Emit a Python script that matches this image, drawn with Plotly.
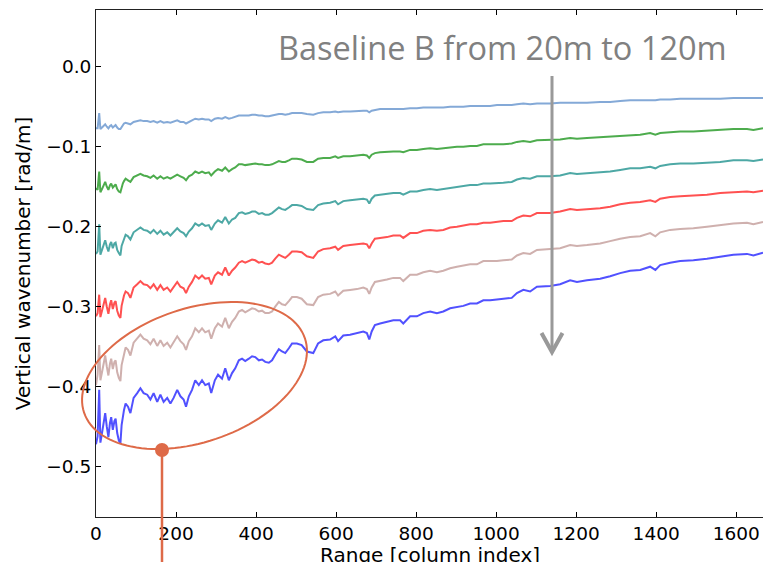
import numpy as np
import plotly.graph_objects as go

# column index grid
x_cols = [0, 4, 8, 11, 15, 19, 23, 27, 31, 35, 38, 42, 46, 49, 53, 57, 61, 64, 67, 70,
          74, 80, 86, 94, 103, 111, 119, 128, 136, 144, 153, 161, 169, 178, 186, 194, 203, 211, 219, 225,
          232, 240, 248, 257, 265, 273, 282, 288, 297, 305, 315, 323, 332, 340, 348, 357, 365, 373, 382, 390,
          398, 407, 415, 423, 432, 440, 448, 457, 465, 473, 482, 490, 502, 514, 527, 543, 555, 568, 585, 598,
          605, 618, 635, 652, 668, 677, 683, 689, 697, 710, 727, 743, 760, 768, 785, 802, 818, 835, 852, 868,
          885, 902, 918, 935, 952, 968, 985, 1002, 1018, 1039, 1052, 1068, 1085, 1102, 1135, 1160, 1185, 1202, 1227, 1260,
          1285, 1310, 1335, 1360, 1385, 1398, 1410, 1435, 1460, 1493, 1527, 1560, 1593, 1627, 1643, 1667]

b20 = [-0.077, -0.077, -0.058, -0.078, -0.076, -0.074, -0.072, -0.075, -0.077, -0.074, -0.073, -0.076, -0.074, -0.073, -0.076, -0.078, -0.078, -0.075, -0.073, -0.071,
       -0.070, -0.071, -0.072, -0.069, -0.068, -0.067, -0.068, -0.068, -0.069, -0.068, -0.070, -0.068, -0.070, -0.069, -0.070, -0.069, -0.067, -0.069, -0.069, -0.071,
       -0.069, -0.067, -0.065, -0.066, -0.065, -0.066, -0.066, -0.068, -0.065, -0.064, -0.065, -0.063, -0.065, -0.064, -0.063, -0.061, -0.061, -0.061, -0.061, -0.060,
       -0.060, -0.061, -0.061, -0.062, -0.062, -0.061, -0.060, -0.059, -0.059, -0.060, -0.059, -0.058, -0.058, -0.058, -0.059, -0.060, -0.058, -0.057, -0.057, -0.056,
       -0.057, -0.056, -0.056, -0.055, -0.055, -0.055, -0.057, -0.055, -0.054, -0.053, -0.053, -0.053, -0.053, -0.053, -0.052, -0.052, -0.051, -0.051, -0.051, -0.051,
       -0.050, -0.050, -0.050, -0.049, -0.049, -0.049, -0.049, -0.048, -0.048, -0.048, -0.047, -0.046, -0.047, -0.046, -0.046, -0.045, -0.045, -0.045, -0.045, -0.044,
       -0.044, -0.043, -0.042, -0.042, -0.042, -0.042, -0.041, -0.041, -0.040, -0.040, -0.040, -0.040, -0.039, -0.039, -0.039, -0.039]

b40 = [-0.152, -0.154, -0.131, -0.157, -0.153, -0.148, -0.144, -0.150, -0.154, -0.148, -0.146, -0.151, -0.148, -0.147, -0.153, -0.156, -0.157, -0.149, -0.146, -0.143,
       -0.140, -0.142, -0.144, -0.138, -0.136, -0.134, -0.136, -0.137, -0.139, -0.136, -0.140, -0.137, -0.140, -0.138, -0.140, -0.138, -0.135, -0.137, -0.139, -0.142,
       -0.137, -0.135, -0.131, -0.133, -0.131, -0.133, -0.132, -0.136, -0.131, -0.128, -0.130, -0.126, -0.131, -0.128, -0.126, -0.122, -0.122, -0.123, -0.122, -0.121,
       -0.121, -0.122, -0.122, -0.123, -0.123, -0.122, -0.120, -0.118, -0.119, -0.119, -0.117, -0.115, -0.115, -0.116, -0.119, -0.119, -0.115, -0.114, -0.114, -0.112,
       -0.114, -0.112, -0.112, -0.111, -0.110, -0.111, -0.114, -0.110, -0.108, -0.107, -0.106, -0.106, -0.106, -0.107, -0.104, -0.104, -0.103, -0.102, -0.103, -0.102,
       -0.101, -0.100, -0.100, -0.099, -0.099, -0.097, -0.097, -0.097, -0.097, -0.096, -0.094, -0.093, -0.094, -0.092, -0.091, -0.091, -0.089, -0.090, -0.089, -0.088,
       -0.087, -0.086, -0.085, -0.085, -0.083, -0.085, -0.083, -0.082, -0.081, -0.081, -0.080, -0.079, -0.078, -0.078, -0.079, -0.077]

b60 = [-0.234, -0.231, -0.197, -0.235, -0.229, -0.222, -0.217, -0.225, -0.231, -0.222, -0.219, -0.227, -0.221, -0.220, -0.229, -0.233, -0.236, -0.224, -0.219, -0.214,
       -0.210, -0.212, -0.216, -0.207, -0.204, -0.201, -0.204, -0.205, -0.208, -0.204, -0.209, -0.205, -0.210, -0.207, -0.211, -0.207, -0.202, -0.206, -0.208, -0.212,
       -0.206, -0.202, -0.196, -0.199, -0.196, -0.199, -0.198, -0.204, -0.196, -0.192, -0.195, -0.188, -0.196, -0.191, -0.189, -0.183, -0.182, -0.184, -0.183, -0.181,
       -0.181, -0.184, -0.183, -0.185, -0.185, -0.183, -0.180, -0.176, -0.178, -0.179, -0.176, -0.173, -0.173, -0.174, -0.178, -0.179, -0.173, -0.171, -0.170, -0.168,
       -0.172, -0.168, -0.167, -0.166, -0.165, -0.166, -0.171, -0.165, -0.161, -0.160, -0.159, -0.158, -0.158, -0.160, -0.156, -0.156, -0.154, -0.153, -0.154, -0.153,
       -0.151, -0.150, -0.149, -0.148, -0.148, -0.146, -0.146, -0.145, -0.145, -0.144, -0.141, -0.139, -0.140, -0.137, -0.137, -0.136, -0.133, -0.134, -0.133, -0.132,
       -0.131, -0.129, -0.127, -0.127, -0.125, -0.127, -0.124, -0.122, -0.121, -0.121, -0.120, -0.119, -0.117, -0.117, -0.118, -0.116]

b80 = [-0.312, -0.308, -0.285, -0.313, -0.305, -0.297, -0.289, -0.300, -0.309, -0.297, -0.292, -0.303, -0.295, -0.293, -0.305, -0.311, -0.314, -0.299, -0.292, -0.286,
       -0.281, -0.283, -0.289, -0.276, -0.272, -0.268, -0.272, -0.273, -0.277, -0.272, -0.279, -0.273, -0.279, -0.276, -0.281, -0.276, -0.269, -0.275, -0.277, -0.283,
       -0.275, -0.269, -0.261, -0.265, -0.261, -0.265, -0.264, -0.272, -0.261, -0.257, -0.260, -0.251, -0.261, -0.255, -0.251, -0.245, -0.243, -0.245, -0.243, -0.241,
       -0.242, -0.245, -0.244, -0.246, -0.247, -0.245, -0.240, -0.235, -0.237, -0.239, -0.235, -0.231, -0.231, -0.232, -0.237, -0.239, -0.231, -0.228, -0.227, -0.225,
       -0.229, -0.224, -0.223, -0.222, -0.221, -0.222, -0.227, -0.221, -0.215, -0.214, -0.213, -0.211, -0.211, -0.214, -0.208, -0.208, -0.205, -0.204, -0.205, -0.204,
       -0.201, -0.200, -0.199, -0.197, -0.197, -0.195, -0.195, -0.194, -0.193, -0.193, -0.189, -0.186, -0.187, -0.183, -0.183, -0.181, -0.178, -0.179, -0.178, -0.177,
       -0.175, -0.172, -0.170, -0.169, -0.167, -0.169, -0.165, -0.163, -0.162, -0.161, -0.160, -0.158, -0.157, -0.156, -0.157, -0.155]

b100 = [-0.398, -0.385, -0.348, -0.392, -0.382, -0.371, -0.361, -0.375, -0.386, -0.371, -0.365, -0.378, -0.369, -0.367, -0.382, -0.389, -0.393, -0.373, -0.365, -0.358,
        -0.351, -0.354, -0.361, -0.345, -0.340, -0.335, -0.340, -0.342, -0.347, -0.340, -0.349, -0.342, -0.349, -0.345, -0.351, -0.345, -0.337, -0.343, -0.347, -0.354,
        -0.343, -0.337, -0.327, -0.332, -0.327, -0.332, -0.330, -0.340, -0.327, -0.321, -0.325, -0.314, -0.327, -0.319, -0.314, -0.306, -0.304, -0.307, -0.304, -0.302,
        -0.303, -0.306, -0.305, -0.308, -0.308, -0.306, -0.300, -0.294, -0.297, -0.298, -0.293, -0.288, -0.288, -0.290, -0.297, -0.298, -0.288, -0.285, -0.284, -0.281,
        -0.286, -0.280, -0.279, -0.278, -0.276, -0.278, -0.284, -0.276, -0.269, -0.268, -0.266, -0.264, -0.264, -0.268, -0.260, -0.260, -0.257, -0.255, -0.257, -0.255,
        -0.252, -0.250, -0.249, -0.247, -0.247, -0.243, -0.243, -0.243, -0.242, -0.241, -0.236, -0.233, -0.234, -0.229, -0.228, -0.227, -0.223, -0.224, -0.223, -0.221,
        -0.218, -0.215, -0.213, -0.212, -0.208, -0.212, -0.207, -0.204, -0.203, -0.202, -0.200, -0.198, -0.196, -0.195, -0.197, -0.194]

b120 = [-0.472, -0.462, -0.404, -0.470, -0.458, -0.445, -0.433, -0.450, -0.463, -0.445, -0.438, -0.454, -0.443, -0.440, -0.458, -0.467, -0.471, -0.448, -0.438, -0.429,
        -0.421, -0.425, -0.433, -0.414, -0.408, -0.402, -0.408, -0.410, -0.416, -0.408, -0.419, -0.410, -0.419, -0.414, -0.421, -0.414, -0.404, -0.412, -0.416, -0.425,
        -0.412, -0.404, -0.392, -0.398, -0.392, -0.398, -0.396, -0.408, -0.392, -0.385, -0.390, -0.377, -0.392, -0.383, -0.377, -0.367, -0.365, -0.368, -0.365, -0.362,
        -0.363, -0.367, -0.366, -0.369, -0.370, -0.367, -0.360, -0.353, -0.356, -0.358, -0.352, -0.346, -0.346, -0.348, -0.356, -0.358, -0.346, -0.342, -0.341, -0.337,
        -0.343, -0.336, -0.335, -0.333, -0.331, -0.333, -0.341, -0.331, -0.323, -0.321, -0.319, -0.317, -0.317, -0.321, -0.312, -0.312, -0.308, -0.306, -0.308, -0.306,
        -0.302, -0.300, -0.299, -0.296, -0.296, -0.292, -0.292, -0.291, -0.290, -0.289, -0.283, -0.279, -0.281, -0.275, -0.274, -0.272, -0.267, -0.269, -0.267, -0.265,
        -0.262, -0.258, -0.255, -0.254, -0.250, -0.254, -0.248, -0.245, -0.243, -0.242, -0.240, -0.2375, -0.235, -0.234, -0.236, -0.2325]

series_names = ["20 m", "40 m", "60 m", "80 m", "100 m", "120 m"]
series_vals = [b20, b40, b60, b80, b100, b120]
series_colors = ["#6f9bd1", "#2f9e2f", "#2f9a96", "#ff3333", "#c7a3a0", "#3333ff"]

x_ticks = [0, 200, 400, 600, 800, 1000, 1200, 1400, 1600]
y_ticks = [0.0, -0.1, -0.2, -0.3, -0.4, -0.5]

X_RANGE = [0, 1667]
Y_RANGE = [-0.5629, 0.0709]
W, H = 763, 562
ML, MR, MT, MB = 96, 0, 10, 45

fig = go.Figure()
for name, vals, col in zip(series_names, series_vals, series_colors):
    fig.add_trace(go.Scatter(x=x_cols, y=vals, mode="lines", name=name,
                             line=dict(color=col, width=2), opacity=0.85))

# pixel -> paper / data helpers for decorations
pw = W - ML - MR
ph = H - MT - MB
sx = pw / (X_RANGE[1] - X_RANGE[0])
sy = ph / (Y_RANGE[1] - Y_RANGE[0])

def px2x(px):
    return X_RANGE[0] + (px - ML) / sx

def py2y(py):
    return Y_RANGE[1] - (py - MT) / sy

def px2p(px):
    return (px - ML) / pw

def py2p(py):
    return (H - MB - py) / ph

shapes = []
# rotated ellipse (orange), in paper coordinates so it is not clipped
cx, cy, a, b, th = 194.5, 375.5, 116.5, 66.9, np.radians(18.6)
t = np.linspace(0, 2 * np.pi, 121)
ex = cx + a * np.cos(t) * np.cos(th) - b * np.sin(t) * np.sin(th)
ey = cy - (a * np.cos(t) * np.sin(th) + b * np.sin(t) * np.cos(th))
path = "M " + " L ".join(f"{px2p(u):.5f},{py2p(v):.5f}" for u, v in zip(ex, ey)) + " Z"
orange = "#de6a48"
shapes.append(dict(type="path", path=path, xref="paper", yref="paper",
                   line=dict(color=orange, width=2), layer="above"))
# vertical pointer line + dot
shapes.append(dict(type="line", xref="paper", yref="paper", x0=px2p(162), x1=px2p(162),
                   y0=py2p(450), y1=py2p(575), line=dict(color=orange, width=2.5), layer="above"))
shapes.append(dict(type="circle", xref="paper", yref="paper", x0=px2p(155), x1=px2p(169),
                   y0=py2p(443), y1=py2p(457),
                   fillcolor=orange, line=dict(color=orange, width=0), layer="above"))
# gray arrow
gray = "#999999"
ax_x = px2x(552)
shapes.append(dict(type="line", xref="x", yref="y", x0=ax_x, x1=ax_x,
                   y0=py2y(76), y1=py2y(351), line=dict(color=gray, width=3), layer="above"))
chev = (f"M {px2x(541.5):.2f},{py2y(333):.5f} L {ax_x:.2f},{py2y(352):.5f} "
        f"L {px2x(562.5):.2f},{py2y(333):.5f}")
shapes.append(dict(type="path", path=chev, xref="x", yref="y",
                   line=dict(color=gray, width=4), layer="above"))

fig.update_layout(
    width=W, height=H,
    margin=dict(l=ML, r=MR, t=MT, b=MB, pad=0),
    paper_bgcolor="white", plot_bgcolor="white",
    showlegend=False,
    font=dict(family="DejaVu Sans", size=17, color="black"),
    shapes=shapes,
    annotations=[
        dict(text="Baseline B from 20m to 120m", xref="x", yref="y",
             x=px2x(502), y=py2y(47), showarrow=False,
             xanchor="center", yanchor="middle",
             font=dict(family="Open Sans", size=32.5, color="#808080")),
        dict(text="Range [column index]", xref="paper", yref="paper",
             x=0.5, y=py2p(555), showarrow=False,
             xanchor="center", yanchor="middle",
             font=dict(family="DejaVu Sans", size=20, color="black")),
    ],
)
fig.update_xaxes(range=X_RANGE, tickvals=x_ticks, ticks="inside", ticklen=5,
                 tickcolor="black", showline=True, linecolor="#222222", linewidth=1,
                 mirror="ticks", showgrid=False, zeroline=False,
                 tickfont=dict(size=18.5))
fig.update_yaxes(range=Y_RANGE, tickvals=y_ticks, tickformat=".1f", ticks="inside", ticklen=5,
                 tickcolor="black", showline=True, linecolor="#222222", linewidth=1,
                 mirror=False, showgrid=False, zeroline=False,
                 title=dict(text="Vertical wavenumber [rad/m]", standoff=10,
                            font=dict(size=20)),
                 tickfont=dict(size=18.5))

fig.write_html("out.html")
